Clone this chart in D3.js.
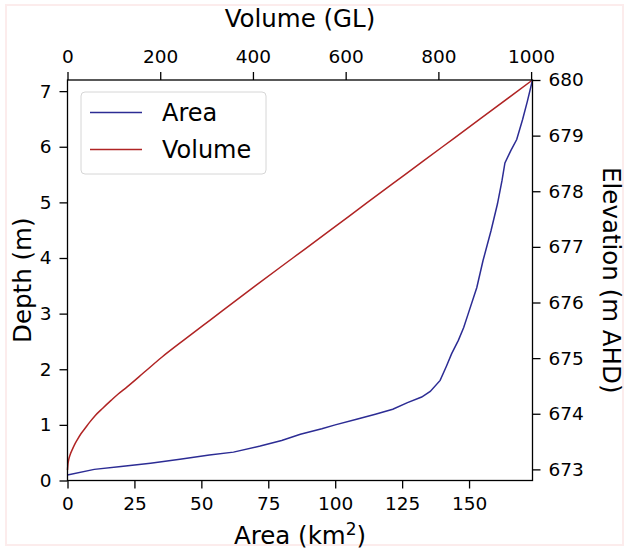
<!DOCTYPE html>
<html>
<head>
<meta charset="utf-8">
<script src="https://cdn.jsdelivr.net/npm/d3@7"></script>
<style>
  body { margin: 0; background: #fff; }
  svg { display: block; font-family: "DejaVu Sans", sans-serif; }
</style>
</head>
<body>
<svg id="chart"></svg>
<script>
// depth (m) vs surface area (km2)
const areaDepth = [0.10, 0.20, 0.25, 0.31, 0.38, 0.46, 0.51, 0.62, 0.72, 0.83, 0.93, 1.00, 1.10, 1.19,
  1.28, 1.40, 1.50, 1.60, 1.80, 2.05, 2.28, 2.52, 2.75, 3.00, 3.47, 3.95, 4.49, 4.97, 5.39, 5.71,
  5.93, 6.13, 6.49, 6.82, 7.20];
const areaValues = [0, 10, 20, 31, 42, 53, 62, 72, 80, 87, 95, 100, 108, 115,
  121.5, 127, 132.3, 135.5, 139.2, 141.5, 143.5, 146, 148, 149.7, 152.9, 155.2, 158.2, 160.6, 162.3, 163.4,
  165.6, 167.8, 170, 171.8, 173.7];

// depth (m) vs stored volume (GL)
const volumeDepth = [0.19, 0.30, 0.37, 0.46, 0.55, 0.64, 0.73, 0.84, 0.94, 1.05, 1.17, 1.30, 1.44, 1.56,
  1.68, 1.95, 2.22, 2.55, 2.88, 3.5, 4.0, 4.5, 5.0, 5.5, 6.0, 6.5, 7.2];
const volumeValues = [0, 1, 2.5, 5.5, 10, 15, 21, 29, 38, 48, 60, 76, 94, 110,
  128, 166, 204, 255, 307, 405, 486, 567, 647, 728, 809, 890, 1003];

const areaTicks = [0, 25, 50, 75, 100, 125, 150];
const volumeTicks = [0, 200, 400, 600, 800, 1000];
const depthTicks = [0, 1, 2, 3, 4, 5, 6, 7];
const elevationTicks = [673, 674, 675, 676, 677, 678, 679, 680];
const baseElevation = 672.8;

const W = 629, H = 549;
const margin = { top: 80, right: 96.5, bottom: 68.5, left: 67.5 };
const width = W - margin.left - margin.right;
const height = H - margin.top - margin.bottom;

const svg = d3.select("#chart").attr("width", W).attr("height", H);

// faint frame round the picture
svg.append("rect")
  .attr("x", 6).attr("y", 5).attr("width", 617).attr("height", 540)
  .attr("fill", "none").attr("stroke", "#fcecec").attr("stroke-width", 2);

const g = svg.append("g")
  .attr("transform", "translate(" + margin.left + "," + margin.top + ")");

const maxDepth = d3.max(areaDepth);
const xArea = d3.scaleLinear().domain([0, d3.max(areaValues)]).range([0, width]);
const xVol = d3.scaleLinear().domain([0, d3.max(volumeValues)]).range([0, width]);
const yDepth = d3.scaleLinear().domain([0, maxDepth]).range([height, 0]);
const yElev = d3.scaleLinear().domain([baseElevation, baseElevation + maxDepth]).range([height, 0]);

const areaData = areaValues.map((a, i) => ({ x: a, d: areaDepth[i] }));
const volData = volumeValues.map((v, i) => ({ x: v, d: volumeDepth[i] }));

g.append("path")
  .datum(volData)
  .attr("fill", "none")
  .attr("stroke", "#b02424")
  .attr("stroke-width", 1.5)
  .attr("d", d3.line().x(d => xVol(d.x)).y(d => yDepth(d.d)).curve(d3.curveMonotoneX));

g.append("path")
  .datum(areaData)
  .attr("fill", "none")
  .attr("stroke", "#2c2c94")
  .attr("stroke-width", 1.5)
  .attr("d", d3.line().x(d => xArea(d.x)).y(d => yDepth(d.d)));

// axes
function styleAxis(sel) {
  sel.select(".domain").remove();
  sel.selectAll(".tick line").attr("stroke", "#000").attr("stroke-width", 1.3);
  sel.selectAll(".tick text").attr("fill", "#000").style("font-size", "18.5px")
    .style("font-family", "DejaVu Sans, sans-serif");
}

g.append("g").attr("transform", "translate(0," + height + ")")
  .call(d3.axisBottom(xArea).tickValues(areaTicks).tickSize(8).tickPadding(8).tickFormat(d3.format("d")))
  .call(styleAxis);

g.append("g")
  .call(d3.axisTop(xVol).tickValues(volumeTicks).tickSize(8).tickPadding(9).tickFormat(d3.format("d")))
  .call(styleAxis);

g.append("g")
  .call(d3.axisLeft(yDepth).tickValues(depthTicks).tickSize(8).tickPadding(8).tickFormat(d3.format("d")))
  .call(styleAxis);

g.append("g").attr("transform", "translate(" + width + ",0)")
  .call(d3.axisRight(yElev).tickValues(elevationTicks).tickSize(8).tickPadding(8).tickFormat(d3.format("d")))
  .call(styleAxis);

// spines
g.append("rect")
  .attr("width", width).attr("height", height)
  .attr("fill", "none").attr("stroke", "#000").attr("stroke-width", 1.3);

// axis titles
svg.append("text")
  .attr("x", margin.left + width / 2).attr("y", 27)
  .attr("text-anchor", "middle").style("font-size", "24.5px")
  .text("Volume (GL)");

const xt = svg.append("text")
  .attr("x", margin.left + width / 2).attr("y", 544)
  .attr("text-anchor", "middle").style("font-size", "24.5px");
xt.append("tspan").text("Area (km");
xt.append("tspan").attr("dy", -9).style("font-size", "17px").text("2");
xt.append("tspan").attr("dy", 9).text(")");

svg.append("text")
  .attr("transform", "translate(31," + (margin.top + height / 2) + ") rotate(-90)")
  .attr("text-anchor", "middle").style("font-size", "24.5px")
  .text("Depth (m)");

svg.append("text")
  .attr("transform", "translate(603," + (margin.top + height / 2) + ") rotate(90)")
  .attr("text-anchor", "middle").style("font-size", "24.5px")
  .text("Elevation (m AHD)");

// legend
const legendItems = [
  { label: "Area", color: "#2c2c94" },
  { label: "Volume", color: "#b02424" }
];
const lg = svg.append("g").attr("transform", "translate(81,92)");
lg.append("rect")
  .attr("width", 185).attr("height", 82).attr("rx", 4)
  .attr("fill", "#fff").attr("fill-opacity", 0.8)
  .attr("stroke", "#d6d6d6").attr("stroke-width", 1);
legendItems.forEach((it, i) => {
  const y = 20.5 + i * 37;
  lg.append("line").attr("x1", 9).attr("x2", 61).attr("y1", y).attr("y2", y)
    .attr("stroke", it.color).attr("stroke-width", 1.5);
  lg.append("text").attr("x", 81).attr("y", y).attr("dy", "0.35em")
    .style("font-size", "24px").text(it.label);
});
</script>
</body>
</html>
